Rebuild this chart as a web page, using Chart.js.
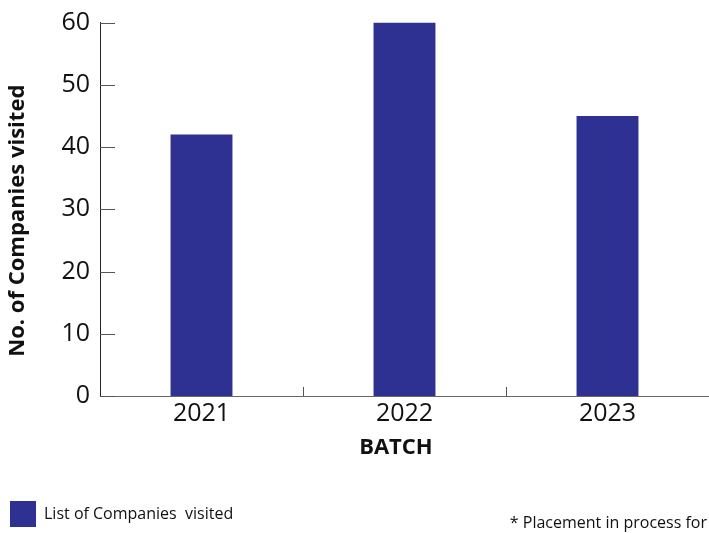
<!DOCTYPE html>
<html>
<head>
<meta charset="utf-8">
<script src="https://cdn.jsdelivr.net/npm/chart.js@4"></script>
<style>
  html, body { margin: 0; padding: 0; background: #fff; }
  #wrap { position: relative; width: 709px; height: 533px; }
  #note {
    position: absolute; right: 2px; top: 511px;
    font: 16px "Open Sans", sans-serif; color: #111;
  }
</style>
</head>
<body>
<div id="wrap">
  <canvas id="batchChart" width="709" height="533"></canvas>
  <div id="note">* Placement in process for</div>
</div>
<script>
const batches = ['2021', '2022', '2023'];
const companiesVisited = [42, 60, 45];
const yTicks = [0, 10, 20, 30, 40, 50, 60];

// small inward tick marks, like the original figure
const innerTicks = {
  id: 'innerTicks',
  afterDatasetsDraw(chart) {
    const { ctx, scales: { x, y } } = chart;
    ctx.save();
    ctx.strokeStyle = '#555';
    ctx.lineWidth = 1;
    yTicks.forEach(v => {
      const py = Math.round(y.getPixelForValue(v)) + 0.5;
      ctx.beginPath();
      ctx.moveTo(x.left, py);
      ctx.lineTo(x.left + 15, py);
      ctx.stroke();
    });
    for (let i = 0; i < batches.length - 1; i++) {
      const px = Math.round((x.getPixelForValue(i) + x.getPixelForValue(i + 1)) / 2) + 0.5;
      ctx.beginPath();
      ctx.moveTo(px, y.bottom);
      ctx.lineTo(px, y.bottom - 9);
      ctx.stroke();
    }
    ctx.restore();
  }
};

const ctx = document.getElementById('batchChart').getContext('2d');
new Chart(ctx, {
  type: 'bar',
  data: {
    labels: batches,
    datasets: [{
      label: 'List of Companies  visited',
      data: companiesVisited,
      backgroundColor: '#2e3192',
      borderWidth: 0,
      categoryPercentage: 1,
      barPercentage: 0.305
    }]
  },
  options: {
    responsive: false,
    animation: false,
    layout: { padding: { top: 21, right: 0, bottom: -4, left: 0 } },
    plugins: {
      legend: {
        position: 'bottom',
        align: 'start',
        labels: {
          boxWidth: 26,
          boxHeight: 26,
          padding: 10,
          color: '#111',
          font: { family: 'Open Sans', size: 16 }
        }
      },
      tooltip: { enabled: false }
    },
    scales: {
      x: {
        grid: { display: false, drawTicks: false },
        border: { display: true, color: '#666', width: 1 },
        ticks: { color: '#111', padding: 3, font: { family: 'Open Sans', size: 25 } },
        title: {
          display: true,
          text: 'BATCH   ',
          color: '#111',
          font: { family: 'Open Sans', size: 22, weight: 'bold' },
          padding: { top: 0, bottom: 30 }
        },
        afterFit(scale) { scale.height = 95; }
      },
      y: {
        min: 0,
        max: 60,
        grid: { display: false, drawTicks: false },
        border: { display: true, color: '#222', width: 1 },
        ticks: {
          stepSize: 10,
          color: '#111',
          padding: 10,
          font: { family: 'Open Sans', size: 25, lineHeight: 1 }
        },
        title: {
          display: true,
          text: 'No. of Companies visited    ',
          color: '#111',
          font: { family: 'Open Sans', size: 22, weight: 'bold' },
          padding: { top: 5, bottom: 0 }
        },
        afterFit(scale) { scale.width = 100; }
      }
    }
  },
  plugins: [innerTicks]
});
</script>
</body>
</html>
